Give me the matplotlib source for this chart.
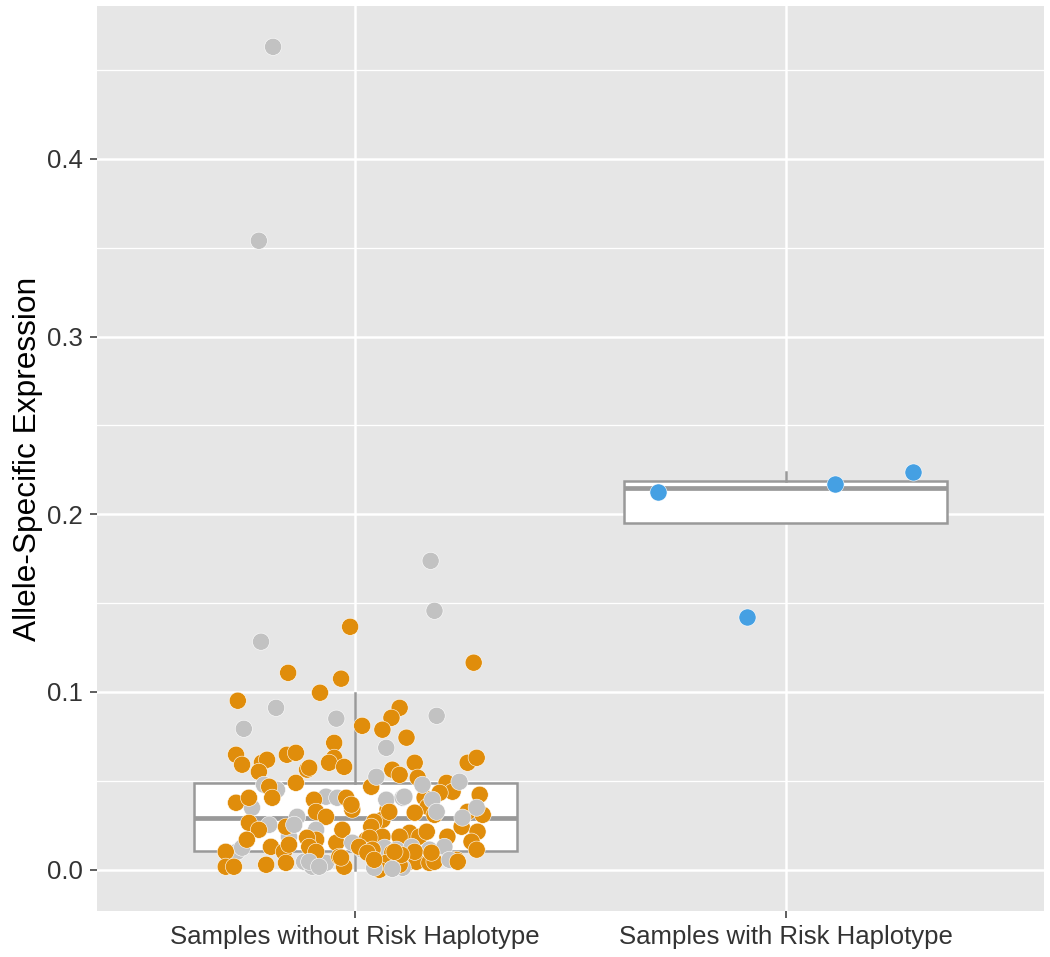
import numpy as np
import matplotlib
matplotlib.use("Agg")
import matplotlib.pyplot as plt
from matplotlib import cbook

plt.rcParams['font.family'] = ['Liberation Sans', 'DejaVu Sans']

categories = ["Samples without Risk Haplotype", "Samples with Risk Haplotype"]

# group 1, orange points: jitter offset from category centre, value
orange_dx = [-0.012, 0.275, -0.156, -0.033, -0.082, -0.273, 0.103, 0.084, 0.063, 0.016,
             0.119, -0.049, -0.277, -0.263, -0.217, -0.205, -0.224, -0.159, -0.138, -0.112,
             -0.049, -0.061, -0.026, 0.261, 0.282, 0.086, 0.103, 0.138, 0.145, -0.107,
             -0.138, -0.200, -0.193, -0.277, -0.247, -0.096, -0.091, -0.068, -0.021, -0.007,
             0.037, 0.212, 0.226, 0.196, 0.161, 0.289, 0.168, 0.138, 0.075, -0.009,
             -0.247, -0.224, -0.161, -0.252, 0.063, 0.044, 0.037, 0.184, 0.261, 0.296,
             0.247, 0.284, 0.270, 0.214, 0.126, 0.149, 0.166, 0.063, 0.103, 0.026,
             -0.091, -0.044, -0.030, 0.079, 0.033, -0.112, -0.196, -0.301, -0.301, -0.207,
             -0.166, -0.107, -0.037, -0.026, 0.009, 0.040, 0.086, 0.072, 0.056, 0.126,
             0.142, 0.172, 0.184, 0.235, 0.103, 0.282, 0.138, 0.177, 0.107, 0.238,
             -0.091, -0.033, 0.028, 0.044, 0.091, -0.282, -0.161, -0.154]
orange_y = [0.1367, 0.1165, 0.1108, 0.1075, 0.0996, 0.0951, 0.0911, 0.0855, 0.0788, 0.0810,
            0.0743, 0.0714, 0.0647, 0.0591, 0.0602, 0.0619, 0.0551, 0.0647, 0.0658, 0.0563,
            0.0630, 0.0602, 0.0579, 0.0602, 0.0630, 0.0563, 0.0534, 0.0602, 0.0518, 0.0574,
            0.0489, 0.0467, 0.0405, 0.0377, 0.0405, 0.0394, 0.0326, 0.0298, 0.0405, 0.0338,
            0.0467, 0.0489, 0.0439, 0.0433, 0.0405, 0.0422, 0.0354, 0.0321, 0.0338, 0.0366,
            0.0264, 0.0225, 0.0242, 0.0169, 0.0281, 0.0270, 0.0242, 0.0309, 0.0326, 0.0309,
            0.0242, 0.0214, 0.0158, 0.0186, 0.0208, 0.0186, 0.0214, 0.0186, 0.0186, 0.0169,
            0.0169, 0.0152, 0.0225, 0.0326, 0.0180, 0.0180, 0.0129, 0.0101, 0.0017, 0.0028,
            0.0101, 0.0129, 0.0073, 0.0017, 0.0129, 0.0113, 0.0096, 0.0039, 0.0000, 0.0045,
            0.0045, 0.0039, 0.0045, 0.0056, 0.0028, 0.0113, 0.0101, 0.0096, 0.0084, 0.0045,
            0.0101, 0.0068, 0.0096, 0.0056, 0.0101, 0.0017, 0.0039, 0.0141]

# group 1, grey points
grey_dx = [-0.191, -0.224, 0.175, 0.184, -0.219, -0.184, -0.044, -0.259, 0.189, 0.072,
           -0.212, -0.182, -0.240, -0.068, -0.042, -0.135, -0.200, -0.154, -0.091, -0.275,
           -0.263, -0.119, -0.100, -0.068, 0.002, 0.049, 0.156, 0.242, 0.072, 0.110,
           0.179, 0.189, 0.282, 0.249, -0.007, 0.016, 0.068, 0.096, 0.131, 0.172,
           0.207, 0.044, 0.110, 0.114, 0.219, -0.107, -0.084, 0.086, -0.142]
grey_y = [0.4630, 0.3539, 0.1738, 0.1457, 0.1283, 0.0911, 0.0850, 0.0793, 0.0866, 0.0686,
          0.0478, 0.0450, 0.0349, 0.0411, 0.0405, 0.0298, 0.0253, 0.0186, 0.0225, 0.0101,
          0.0124, 0.0045, 0.0017, 0.0039, 0.0141, 0.0523, 0.0478, 0.0495, 0.0394, 0.0405,
          0.0394, 0.0326, 0.0349, 0.0293, 0.0152, 0.0113, 0.0124, 0.0113, 0.0129, 0.0113,
          0.0129, 0.0011, 0.0011, 0.0411, 0.0056, 0.0045, 0.0017, 0.0005, 0.0253]

# group 2, blue points
blue_dx = [-0.296, 0.114, 0.296, -0.091]
blue_y = [0.2127, 0.2172, 0.2239, 0.1423]

# box of group 1
box1 = dict(whislo=0.0, q1=0.0107, med=0.0293, q3=0.0489, whishi=0.0996)

orange = "#E08D0B"
grey = "#C2C2C2"
blue = "#45A0E3"
box_col = "#999999"

fig = plt.figure(figsize=(10.5, 9.57), dpi=100)
ax = fig.add_axes([0.0924, 0.0481, 0.9019, 0.9457])
ax.set_facecolor("#E6E6E6")
for s in ax.spines.values():
    s.set_visible(False)

box2 = cbook.boxplot_stats(np.array(blue_y), whis=1.5)[0]
stats = [dict(box1, fliers=[]), dict(box2, fliers=[])]
ax.bxp(stats, positions=[1, 2], widths=0.75, patch_artist=True,
       showcaps=False, showfliers=False,
       boxprops=dict(facecolor="white", edgecolor=box_col, linewidth=1.8),
       whiskerprops=dict(color=box_col, linewidth=1.8),
       medianprops=dict(color=box_col, linewidth=3.4, solid_capstyle="butt"),
       zorder=2)

# mix grey and orange in the drawing order so neither is always on top
g1_x = np.concatenate([orange_dx, grey_dx]) + 1
g1_y = np.concatenate([orange_y, grey_y])
g1_c = [orange] * len(orange_dx) + [grey] * len(grey_dx)
n_o, n_g = len(orange_dx), len(grey_dx)
order = np.argsort(np.concatenate([np.arange(n_o) / n_o, (np.arange(n_g) + 0.5) / n_g]))
ax.scatter(g1_x[order], g1_y[order], s=152, c=[g1_c[i] for i in order],
           edgecolors="white", linewidths=0.4, zorder=3)
ax.scatter(2 + np.array(blue_dx), blue_y, s=152, c=blue,
           edgecolors="white", linewidths=0.4, zorder=3)

ax.set_xlim(0.4, 2.6)
ax.set_ylim(-0.0232, 0.486)
ax.set_xticks([1, 2])
ax.set_xticklabels(categories)
ax.set_yticks([0.0, 0.1, 0.2, 0.3, 0.4])
ax.set_yticklabels(["0.0", "0.1", "0.2", "0.3", "0.4"])
ax.set_yticks([0.05, 0.15, 0.25, 0.35, 0.45], minor=True)
ax.tick_params(axis="both", which="major", labelsize=18.5, labelcolor="#333333",
               color="#333333", length=5, width=1.1)
ax.tick_params(axis="y", which="major", pad=5.5)
ax.tick_params(axis="x", which="major", pad=5)
ax.tick_params(axis="y", which="minor", length=0)

ax.set_axisbelow(True)
ax.grid(which="major", color="white", linewidth=1.8)
ax.grid(which="minor", axis="y", color="white", linewidth=0.9)

ax.set_ylabel("Allele-Specific Expression", fontsize=22.8, color="black")
ax.yaxis.set_label_coords(-0.057, 0.5)

fig.savefig("out.png", dpi=100)
